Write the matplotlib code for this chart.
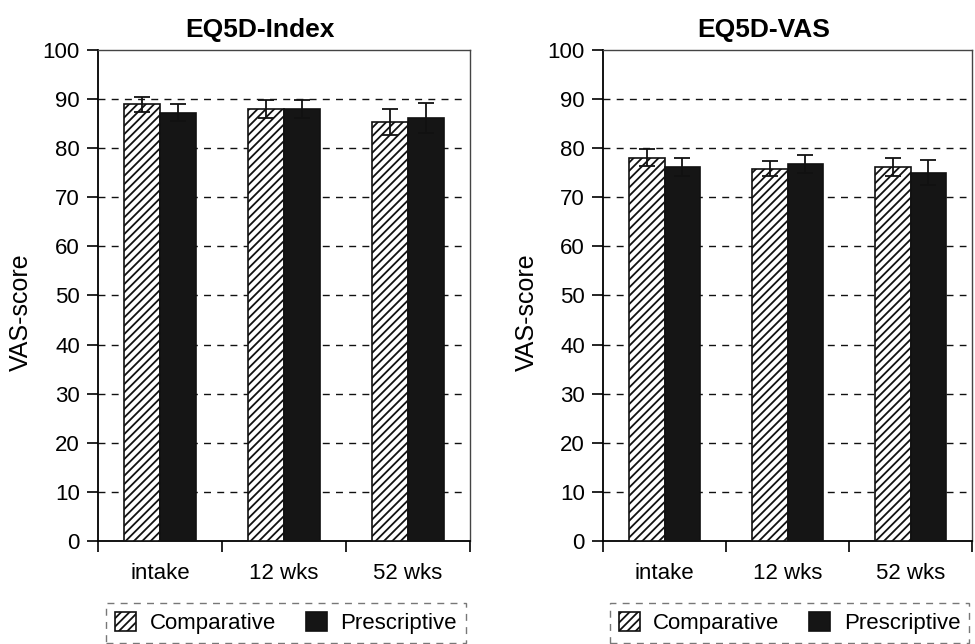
import numpy as np
import matplotlib
matplotlib.use('Agg')
import matplotlib.pyplot as plt

plt.rcParams['font.family'] = ['Liberation Sans', 'DejaVu Sans']
plt.rcParams['hatch.color'] = '#5a5a5a'
plt.rcParams['hatch.linewidth'] = 1.3

timepoints = ['intake', '12 wks', '52 wks']
groups = ['Comparative', 'Prescriptive']

# mean and error for EQ5D-Index
index_comp = [88.9, 88.0, 85.3]
index_comp_err = [1.6, 1.9, 2.7]
index_presc = [87.2, 88.0, 86.2]
index_presc_err = [1.7, 1.8, 3.1]

# mean and error for EQ5D-VAS
vas_comp = [78.1, 75.8, 76.2]
vas_comp_err = [1.7, 1.5, 1.9]
vas_presc = [76.2, 76.8, 75.0]
vas_presc_err = [1.9, 1.8, 2.6]

panels = [
    ('EQ5D-Index', index_comp, index_comp_err, index_presc, index_presc_err),
    ('EQ5D-VAS', vas_comp, vas_comp_err, vas_presc, vas_presc_err),
]

fig = plt.figure(figsize=(9.75, 6.44), dpi=100)
axes = [fig.add_axes([0.1005, 0.16, 0.3815, 0.7624]),
        fig.add_axes([0.6185, 0.16, 0.3785, 0.7624])]

x = np.arange(len(timepoints))
w = 0.29
dash = (0, (5, 4.5))
for ax, (title, comp, comp_err, presc, presc_err) in zip(axes, panels):
    ax.bar(x - w / 2, comp, w, color='white', edgecolor='#111111', hatch='////',
           linewidth=1.2, label=groups[0], zorder=3)
    ax.bar(x + w / 2, presc, w, color='#151515', edgecolor='#111111',
           linewidth=1.2, label=groups[1], zorder=3)
    ax.errorbar(x - w / 2, comp, yerr=comp_err, fmt='none', ecolor='#111111',
                elinewidth=1.3, capsize=6, capthick=1.3, zorder=4)
    ax.errorbar(x + w / 2, presc, yerr=presc_err, fmt='none', ecolor='#111111',
                elinewidth=1.3, capsize=6, capthick=1.3, zorder=4)

    ax.set_xlim(-0.5, len(timepoints) - 0.5)
    ax.set_ylim(0, 100)
    ax.set_yticks(range(0, 101, 10))
    for v in range(10, 100, 10):
        ax.plot([-0.5, 2.45], [v, v], color='#111111', linestyle=dash,
                linewidth=1.0, zorder=1)

    # category labels in the middle, ticks on the boundaries
    ax.set_xticks(x)
    ax.set_xticklabels(timepoints)
    ax.set_xticks(np.arange(-0.5, len(timepoints), 1.0), minor=True)
    ax.tick_params(axis='x', which='major', length=0, pad=16, labelsize=16)
    ax.tick_params(axis='x', which='minor', direction='out', length=8, width=1.2)
    ax.tick_params(axis='y', direction='out', length=8, width=1.2, labelsize=16, pad=5)

    for side in ['top', 'right']:
        ax.spines[side].set_linewidth(1.0)
        ax.spines[side].set_color('#444444')
    ax.spines['left'].set_linewidth(1.3)
    ax.spines['bottom'].set_linewidth(1.3)

    t = ax.set_title(title, fontsize=19, fontweight='bold', pad=9)
    t.set_x(0.435)
    ax.set_ylabel('VAS-score', fontsize=18)
    ax.yaxis.set_label_coords(-0.175, 0.466)

    leg = ax.legend(loc='upper center', bbox_to_anchor=(0.505, -0.127), ncol=2,
                    frameon=True, fancybox=False, fontsize=16, handlelength=0.95,
                    handleheight=0.9, handletextpad=0.6, columnspacing=1.35,
                    borderpad=0.4, borderaxespad=0)
    frame = leg.get_frame()
    frame.set_linestyle(dash)
    frame.set_edgecolor('#555555')
    frame.set_linewidth(1.0)

fig.savefig('out.png', dpi=100)
